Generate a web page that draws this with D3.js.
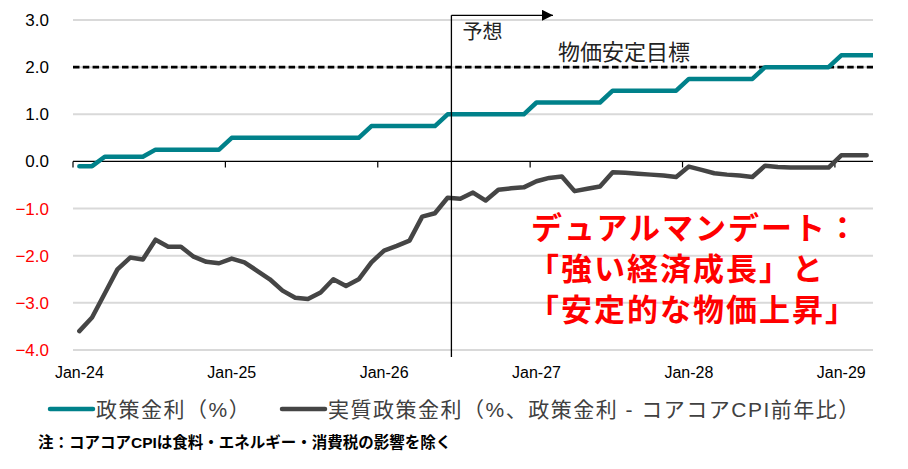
<!DOCTYPE html>
<html><head><meta charset="utf-8">
<script src="https://cdn.jsdelivr.net/npm/d3@7"></script>
<style>
body{margin:0;background:#fff}
svg{display:block}
text{font-family:"Liberation Sans","Noto Sans CJK JP",Arial,sans-serif}
</style>
</head><body>
<svg id="c" width="908" height="469"></svg>
<script>
// ---------- data ----------
const months = d3.timeMonths(new Date(2024,0,1), new Date(2029,4,1)).map(d3.timeFormat("%b-%y")); // Jan-24 .. Apr-29
const policyRate = [-0.1,-0.1, 0.1,0.1,0.1,0.1, 0.25,0.25,0.25,0.25,0.25,0.25,
  0.5,0.5,0.5,0.5,0.5,0.5,0.5,0.5,0.5,0.5,0.5, 0.75,0.75,0.75,0.75,0.75,0.75,
  1.0,1.0,1.0,1.0,1.0,1.0,1.0, 1.25,1.25,1.25,1.25,1.25,1.25, 1.5,1.5,1.5,1.5,1.5,1.5,
  1.75,1.75,1.75,1.75,1.75,1.75, 2.0,2.0,2.0,2.0,2.0,2.0, 2.25,2.25,2.25,2.25];
const realRate = [-3.60,-3.31,-2.80,-2.29,-2.04,-2.08,-1.66,-1.81,-1.81,-2.02,
  -2.13,-2.16,-2.06,-2.14,-2.32,-2.50,-2.74,-2.89,-2.92,-2.78,
  -2.50,-2.64,-2.50,-2.14,-1.89,-1.79,-1.68,-1.17,-1.10,-0.77,
  -0.79,-0.66,-0.83,-0.60,-0.57,-0.55,-0.42,-0.35,-0.32,-0.63,
  -0.58,-0.53,-0.23,-0.24,-0.26,-0.28,-0.30,-0.33,-0.11,-0.18,
  -0.25,-0.28,-0.30,-0.33,-0.09,-0.12,-0.13,-0.13,-0.13,-0.13,
  0.13,0.13,0.13];
const yTicks = [3,2,1,0,-1,-2,-3,-4];
const xTickLabels = ["Jan-24","Jan-25","Jan-26","Jan-27","Jan-28","Jan-29"];
const inflationTarget = 2.0;
const forecastStart = 29.3;   // month index (between Jun-26 and Jul-26)
const forecastArrowEnd = 37.3;
const seriesNames = ["政策金利（%）","実質政策金利（%、政策金利 - コアコアCPI前年比）"];
const seriesColors = ["#00818a","#454545"];
const noteText = "注：コアコアCPIは食料・エネルギー・消費税の影響を除く";
const calloutLines = ["デュアルマンデート：","「強い経済成長」と","「安定的な物価上昇」"];

// ---------- layout ----------
const svg = d3.select("#c");
const L = 73, R = 873, T = 20, B = 350;
const nCat = 63;
const x = d3.scaleLinear().domain([-0.5, nCat - 0.5]).range([L, R]);
const y = d3.scaleLinear().domain([-4, 3]).range([B, T]);

svg.append("defs").append("clipPath").attr("id","plot")
  .append("rect").attr("x",L).attr("y",0).attr("width",R-L).attr("height",469);
svg.select("defs").append("marker").attr("id","arr")
  .attr("viewBox","0 0 10 10").attr("refX",10).attr("refY",5)
  .attr("markerWidth",11).attr("markerHeight",11).attr("markerUnits","userSpaceOnUse")
  .attr("orient","auto")
  .append("path").attr("d","M0,0L10,5L0,10Z").attr("fill","#000");

// gridlines
svg.append("g").selectAll("line").data(yTicks.filter(v => v !== 0)).join("line")
  .attr("x1",L).attr("x2",R).attr("y1",d=>y(d)).attr("y2",d=>y(d))
  .attr("stroke","#d9d9d9").attr("stroke-width",2);

// y labels
svg.append("g").selectAll("text").data(yTicks).join("text")
  .attr("x",49).attr("y",d=>y(d)).attr("dy","0.35em").attr("text-anchor","end")
  .attr("font-size",17).attr("fill",d=>d<0?"#ff0000":"#000")
  .text(d=>d3.format(".1f")(d));

// target dashed line
svg.append("line").attr("x1",L).attr("x2",R)
  .attr("y1",y(inflationTarget)).attr("y2",y(inflationTarget))
  .attr("stroke","#000").attr("stroke-width",2.6).attr("stroke-dasharray","6.5,3.3");

// x axis
const xAxisG = svg.append("g");
xAxisG.append("line").attr("x1",L).attr("x2",R).attr("y1",y(0)).attr("y2",y(0))
  .attr("stroke","#000").attr("stroke-width",1.2);
const janIdx = xTickLabels.map(l => months.indexOf(l));
xAxisG.selectAll("line.t").data(janIdx).join("line").attr("class","t")
  .attr("x1",d=>x(d-0.5)).attr("x2",d=>x(d-0.5)).attr("y1",y(0)).attr("y2",y(0)+6)
  .attr("stroke","#000").attr("stroke-width",1.2);
svg.append("g").selectAll("text").data(janIdx).join("text")
  .attr("x",d=>x(d)).attr("y",378).attr("text-anchor","middle").attr("font-size",16)
  .attr("fill","#000").text(d=>months[d]);

// lines
const line = d3.line().x((d,i)=>x(i)).y(d=>y(d));
const lg = svg.append("g").attr("clip-path","url(#plot)");
lg.append("path").datum(policyRate).attr("d",line).attr("fill","none")
  .attr("stroke",seriesColors[0]).attr("stroke-width",4.5).attr("stroke-linejoin","round")
  .attr("stroke-linecap","round");
lg.append("path").datum(realRate).attr("d",line).attr("fill","none")
  .attr("stroke",seriesColors[1]).attr("stroke-width",4.5).attr("stroke-linejoin","round")
  .attr("stroke-linecap","round");

// forecast marker
svg.append("line").attr("x1",x(forecastStart)).attr("x2",x(forecastStart))
  .attr("y1",y(3.1)).attr("y2",y(-4.15)).attr("stroke","#000").attr("stroke-width",1.3);
svg.append("line").attr("x1",x(forecastStart)).attr("x2",x(forecastArrowEnd))
  .attr("y1",y(3.1)).attr("y2",y(3.1)).attr("stroke","#000").attr("stroke-width",1.3)
  .attr("marker-end","url(#arr)");
svg.append("text").attr("x",x(forecastStart)+11).attr("y",39).attr("font-size",20)
  .attr("fill","#222").text("予想");
svg.append("text").attr("x",558).attr("y",60).attr("font-size",22)
  .attr("fill","#222").text("物価安定目標");

// callout
svg.append("g").selectAll("text").data(calloutLines).join("text")
  .attr("x",(d,i)=>i===0?531:528).attr("y",(d,i)=>239+i*41)
  .attr("font-size",31).attr("font-weight","bold").attr("fill","#ff0000")
  .attr("letter-spacing",2).text(d=>d);

// legend
const leg = svg.append("g");
const legX = [50, 282];
leg.selectAll("line").data(seriesNames).join("line")
  .attr("x1",(d,i)=>legX[i]).attr("x2",(d,i)=>legX[i]+43).attr("y1",409).attr("y2",409)
  .attr("stroke",(d,i)=>seriesColors[i]).attr("stroke-width",4.5).attr("stroke-linecap","round");
leg.selectAll("text").data(seriesNames).join("text")
  .attr("x",(d,i)=>legX[i]+46).attr("y",417).attr("font-size",21).attr("fill","#404040")
  .attr("letter-spacing",1.5).text(d=>d);

// note
svg.append("text").attr("x",38).attr("y",448).attr("font-size",15.5).attr("font-weight","bold")
  .attr("fill","#000").text(noteText);
</script>
</body></html>
